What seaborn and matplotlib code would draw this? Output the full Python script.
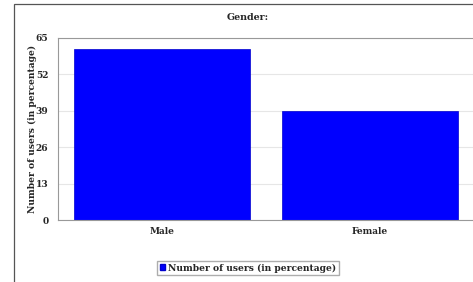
import pandas as pd
import matplotlib.pyplot as plt
import seaborn as sns
from matplotlib.patches import Rectangle, Patch

# data
genders = ['Male', 'Female']
users_pct = [61, 39]
y_ticks = [0, 13, 26, 39, 52, 65]

df = pd.DataFrame({'Gender': genders, 'Users': users_pct})

sns.set_style('white')
plt.rcParams['font.family'] = ['DejaVu Serif']
plt.rcParams['font.weight'] = 'bold'

fig = plt.figure(figsize=(4.73, 2.82), dpi=100)
fig.patches.append(Rectangle((14 / 473, -0.1), 1.0, 1.1 - 4 / 282,
                             transform=fig.transFigure, fill=False,
                             edgecolor='#555555', linewidth=0.9))

ax = fig.add_axes([58 / 473, 1 - 220 / 282, 416 / 473, 182 / 282])
sns.barplot(data=df, x='Gender', y='Users', color='#0000ff', width=0.85,
            saturation=1, edgecolor='#0000cc', linewidth=0.5, ax=ax)

ax.set_ylim(0, 65)
ax.set_yticks(y_ticks)
ax.set_xlim(-0.5, 1.5)
ax.yaxis.grid(True, color='#e6e6e6', linewidth=0.8)
ax.set_axisbelow(True)
for s in ax.spines.values():
    s.set_color('#999999')
    s.set_linewidth(0.8)
ax.tick_params(axis='both', labelsize=6.5, length=3, width=0.6,
               color='#bbbbbb', pad=2)
ax.tick_params(axis='y', pad=4)
ax.set_xlabel('')
ax.set_ylabel('Number of users (in percentage)', fontsize=6.6,
              fontweight='bold', labelpad=-1)

fig.text(248 / 473, 1 - 18 / 282, 'Gender:', ha='center', va='center',
         fontsize=6.8, fontweight='bold')

fig.legend(handles=[Patch(facecolor='#0000ff', edgecolor='#0000cc',
                          label='Number of users (in percentage)')],
           loc='center', bbox_to_anchor=(248 / 473, 1 - 268 / 282),
           fontsize=6.6, frameon=True, fancybox=False, edgecolor='#999999',
           handlelength=0.6, handleheight=0.6, handletextpad=0.3,
           borderpad=0.3, borderaxespad=0)

fig.savefig('out.png', dpi=100)
